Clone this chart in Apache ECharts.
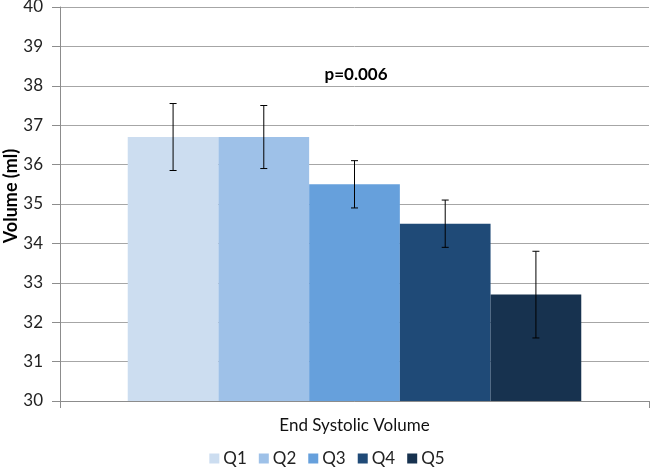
<!DOCTYPE html>
<html>
<head>
<meta charset="utf-8">
<script src="https://cdn.jsdelivr.net/npm/echarts@6/dist/echarts.min.js"></script>
<style>html,body{margin:0;padding:0;background:#fff;}#c{width:654px;height:469px;}</style>
</head>
<body>
<div id="c"></div>
<script>
var categories = ['End Systolic Volume'];
var seriesNames = ['Q1', 'Q2', 'Q3', 'Q4', 'Q5'];
var means = [36.7, 36.7, 35.5, 34.5, 32.7];
var errLow = [35.85, 35.9, 34.9, 33.9, 31.6];
var errHigh = [37.55, 37.5, 36.1, 35.1, 33.8];
var colors = ['#CCDDF0', '#9EC1E8', '#66A0DC', '#1F4A77', '#17324F'];
var pText = 'p=0.006';

var FONT = 'Lato, "Open Sans", sans-serif';
var catGap = 0.23;

var series = seriesNames.map(function (n, i) {
  return {
    name: n, type: 'bar', data: [means[i]],
    itemStyle: { color: colors[i] },
    barGap: '0%', barCategoryGap: (catGap * 100) + '%',
    z: 2
  };
});

series.push({
  type: 'custom',
  z: 5,
  renderItem: function (params, api) {
    var idx = api.value(3);
    var center = api.coord([api.value(0), api.value(1)]);
    var catW = api.size([1, 0])[0];
    var bw = catW * (1 - catGap) / seriesNames.length;
    var x = center[0] + (idx - (seriesNames.length - 1) / 2) * bw;
    var yl = api.coord([api.value(0), api.value(1)])[1];
    var yh = api.coord([api.value(0), api.value(2)])[1];
    var cap = 3.5;
    var st = { stroke: '#000', lineWidth: 1 };
    return {
      type: 'group',
      children: [
        { type: 'line', shape: { x1: x, y1: yl, x2: x, y2: yh }, style: st },
        { type: 'line', shape: { x1: x - cap, y1: yl, x2: x + cap, y2: yl }, style: st },
        { type: 'line', shape: { x1: x - cap, y1: yh, x2: x + cap, y2: yh }, style: st }
      ]
    };
  },
  data: seriesNames.map(function (n, i) { return [0, errLow[i], errHigh[i], i]; })
});

var chart = echarts.init(document.getElementById('c'), null, { renderer: 'canvas' });
chart.setOption({
  animation: false,
  textStyle: { fontFamily: FONT },
  title: {
    text: pText, left: 351, top: 61, textAlign: 'center',
    textStyle: { fontFamily: FONT, fontWeight: 'bold', fontSize: 17, color: '#000' }
  },
  grid: { left: 60, right: 5, top: 7, bottom: 68, containLabel: false, outerBoundsMode: 'none' },
  legend: {
    data: seriesNames, bottom: -3, left: 'center',
    icon: 'rect', itemWidth: 10, itemHeight: 10, itemGap: 12,
    textStyle: { fontFamily: FONT, fontSize: 17, color: '#222', padding: [0, 0, 0, -1] }
  },
  xAxis: {
    type: 'category', data: categories,
    axisLine: { lineStyle: { color: '#8c8c8c' } },
    axisTick: { show: true, length: 7, lineStyle: { color: '#8c8c8c' } },
    axisLabel: { fontFamily: FONT, fontSize: 17, color: '#111', margin: 16 }
  },
  yAxis: {
    type: 'value', min: 30, max: 40, interval: 1,
    name: 'Volume (ml)', nameLocation: 'middle', nameGap: 40, nameRotate: 90,
    nameMoveOverlap: false,
    nameTextStyle: { fontFamily: FONT, fontWeight: 'bold', fontSize: 18, color: '#000', padding: [0, 0, 0, 16] },
    axisLine: { show: true, lineStyle: { color: '#8c8c8c' } },
    axisTick: { show: true, length: 8, inside: false, lineStyle: { color: '#8c8c8c' } },
    axisLabel: { fontFamily: FONT, fontSize: 17, color: '#222', margin: 17 },
    splitLine: { lineStyle: { color: '#a6a6a6' } }
  },
  series: series
});
</script>
</body>
</html>
